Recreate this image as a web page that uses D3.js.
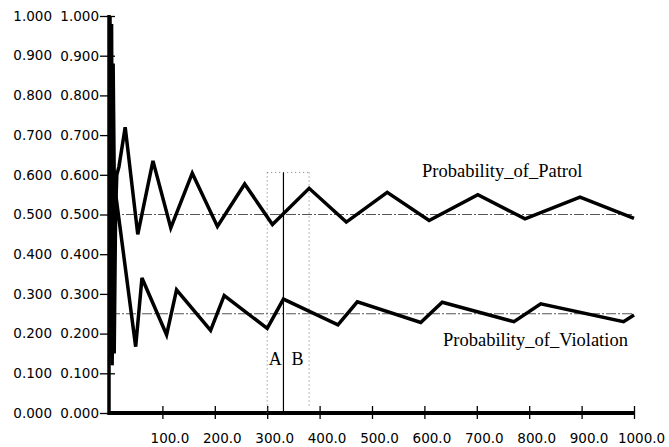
<!DOCTYPE html>
<html>
<head>
<meta charset="utf-8">
<script src="https://cdn.jsdelivr.net/npm/d3@7"></script>
<style>
  body { margin: 0; background: #fff; }
  svg { display: block; }
</style>
</head>
<body>
<div id="chart"></div>
<script>
// Data
const patrolTime = [0, 2, 3, 5, 6, 8, 10, 13, 17, 29, 53, 82, 116, 157, 205, 257, 310, 380, 451, 529, 609, 702, 792, 897, 1000];
const patrolValue = [1.0, 0.15, 0.98, 0.2, 0.88, 0.6, 0.48, 0.6, 0.62, 0.72, 0.45, 0.635, 0.466, 0.604, 0.47, 0.577, 0.475, 0.566, 0.481, 0.556, 0.485, 0.55, 0.489, 0.544, 0.49];

const violationTime = [0, 1, 3, 4, 6, 8, 11, 49, 61, 108, 127, 192, 218, 300, 331, 435, 472, 593, 634, 771, 822, 980, 1000];
const violationValue = [0.6, 0.14, 0.35, 0.12, 0.3, 0.15, 0.55, 0.167, 0.34, 0.197, 0.31, 0.208, 0.296, 0.213, 0.287, 0.222, 0.28, 0.228, 0.279, 0.23, 0.275, 0.23, 0.247];

const yTicks = [0, 0.1, 0.2, 0.3, 0.4, 0.5, 0.6, 0.7, 0.8, 0.9, 1.0];
const xTicks = [100, 200, 300, 400, 500, 600, 700, 800, 900, 1000];
const refLevels = [0.5, 0.25];
const markA = 300, markNow = 331, markB = 380, markTop = 0.606;

const width = 669, height = 447;

const svg = d3.select("#chart")
  .append("svg")
  .attr("width", width)
  .attr("height", height);

// Scales
const x = d3.scaleLinear().domain([0, 1000]).range([110, 634]);
const y = d3.scaleLinear().domain([0, 1]).range([413, 16]);

const fmtY = d3.format(".3f");
const fmtX = d3.format(".1f");
const labelFont = "DejaVu Sans";
const labelSize = "13.5px";

// Left label column (duplicate of the axis labels)
svg.append("g")
  .selectAll("text")
  .data(yTicks)
  .enter()
  .append("text")
  .attr("x", 52)
  .attr("y", d => y(d))
  .attr("dy", "0.35em")
  .attr("text-anchor", "end")
  .style("font-family", labelFont)
  .style("font-size", labelSize)
  .text(d => fmtY(d));

// Y axis with ticks crossing the line
const yAxis = svg.append("g")
  .attr("transform", "translate(115,0)")
  .call(d3.axisLeft(y).tickValues(yTicks).tickFormat(fmtY).tickSize(15).tickPadding(1));
yAxis.select(".domain").remove();
yAxis.selectAll("line").attr("stroke", "#000").attr("stroke-width", 1.3);
yAxis.selectAll("text")
  .style("font-family", labelFont)
  .style("font-size", labelSize)
  .attr("fill", "#000");

// X axis
const xAxis = svg.append("g")
  .attr("transform", "translate(0,406)")
  .call(d3.axisBottom(x).tickValues(xTicks).tickFormat(fmtX).tickSize(13).tickPadding(14));
xAxis.select(".domain").remove();
xAxis.selectAll("line").attr("stroke", "#000").attr("stroke-width", 1.3);
xAxis.selectAll("text")
  .attr("dx", 7)
  .style("font-family", labelFont)
  .style("font-size", labelSize)
  .attr("fill", "#000");

// Thick axis lines
svg.append("line")
  .attr("x1", x(0) - 1).attr("x2", x(0) - 1)
  .attr("y1", y(1) - 1).attr("y2", y(0) + 2)
  .attr("stroke", "#000").attr("stroke-width", 3.5);
svg.append("line")
  .attr("x1", x(0) - 2).attr("x2", x(1000))
  .attr("y1", y(0)).attr("y2", y(0))
  .attr("stroke", "#000").attr("stroke-width", 4);

// Reference lines
svg.append("g")
  .selectAll("line")
  .data(refLevels)
  .enter()
  .append("line")
  .attr("x1", x(0)).attr("x2", x(1000))
  .attr("y1", d => y(d)).attr("y2", d => y(d))
  .attr("stroke", "#555")
  .attr("stroke-width", 1)
  .attr("stroke-dasharray", "10,2,2,2");

// A / B markers
const dotted = "1,3";
svg.append("line")
  .attr("x1", x(markA)).attr("x2", x(markB))
  .attr("y1", y(markTop)).attr("y2", y(markTop))
  .attr("stroke", "#777").attr("stroke-dasharray", dotted);
svg.append("line")
  .attr("x1", x(markA)).attr("x2", x(markA))
  .attr("y1", y(markTop)).attr("y2", y(0))
  .attr("stroke", "#777").attr("stroke-dasharray", dotted);
svg.append("line")
  .attr("x1", x(markB)).attr("x2", x(markB))
  .attr("y1", y(markTop)).attr("y2", y(0.015))
  .attr("stroke", "#777").attr("stroke-dasharray", dotted);
svg.append("line")
  .attr("x1", x(markNow)).attr("x2", x(markNow))
  .attr("y1", y(markTop)).attr("y2", y(0))
  .attr("stroke", "#000").attr("stroke-width", 1.2);

svg.append("text")
  .attr("x", x(markA) + 8).attr("y", 365)
  .attr("text-anchor", "middle")
  .style("font-family", "Liberation Serif")
  .style("font-size", "18px")
  .text("A");
svg.append("text")
  .attr("x", x(markNow) + 14).attr("y", 365)
  .attr("text-anchor", "middle")
  .style("font-family", "Liberation Serif")
  .style("font-size", "18px")
  .text("B");

// Curves
const line = d3.line()
  .x(d => x(d[0]))
  .y(d => y(d[1]));

svg.append("path")
  .datum(d3.zip(patrolTime, patrolValue))
  .attr("fill", "none")
  .attr("stroke", "#000")
  .attr("stroke-width", 3.5)
  .attr("d", line);

svg.append("path")
  .datum(d3.zip(violationTime, violationValue))
  .attr("fill", "none")
  .attr("stroke", "#000")
  .attr("stroke-width", 3.5)
  .attr("d", line);

// Series labels
svg.append("text")
  .attr("x", 422).attr("y", 177)
  .style("font-family", "Liberation Serif")
  .style("font-size", "18.5px")
  .text("Probability_of_Patrol");
svg.append("text")
  .attr("x", 443).attr("y", 346)
  .style("font-family", "Liberation Serif")
  .style("font-size", "18.5px")
  .text("Probability_of_Violation");
</script>
</body>
</html>
